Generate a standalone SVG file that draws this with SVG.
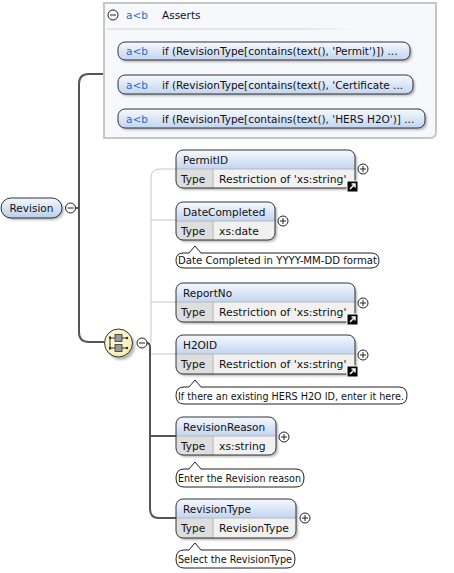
<svg xmlns="http://www.w3.org/2000/svg" width="454" height="573" viewBox="0 0 454 573">
<defs>
<linearGradient id="hdr" x1="0" y1="0" x2="0" y2="1"><stop offset="0" stop-color="#f6f9fe"/><stop offset="1" stop-color="#c2d5f0"/></linearGradient>
<linearGradient id="pill" x1="0" y1="0" x2="0" y2="1"><stop offset="0" stop-color="#f2f7fe"/><stop offset="1" stop-color="#b9cfee"/></linearGradient>
<radialGradient id="seq" cx="0.4" cy="0.35" r="0.7"><stop offset="0" stop-color="#fffde8"/><stop offset="1" stop-color="#f3eba8"/></radialGradient>
<linearGradient id="sep" x1="0" y1="0" x2="1" y2="0"><stop offset="0" stop-color="#e4e6ea"/><stop offset="0.8" stop-color="#e4e6ea"/><stop offset="1" stop-color="#f7f8fc"/></linearGradient>
<filter id="sh" x="-10%" y="-20%" width="130%" height="160%"><feGaussianBlur stdDeviation="1"/></filter>
</defs>
<style>
text{font-family:"DejaVu Sans","Liberation Sans",sans-serif;font-size:10.5px;fill:#111}
.ab{fill:#2a6cc4}
.cl{font-size:10px}
.val{font-size:10.8px}
.bd{fill:none;stroke:#333;stroke-width:1}
.shd{fill:#808080;opacity:.55;filter:url(#sh)}
.body{fill:#f1f1f1}
.tc{fill:#dedede}
.hd{fill:url(#hdr)}
.dv{stroke:#b8b8b8;stroke-width:1}
.thick{fill:none;stroke:#555;stroke-width:2}
.thin{fill:none;stroke:#c8c8c8;stroke-width:1}
.btn{fill:#fff;stroke:#222;stroke-width:1}
.sgn{stroke:#222;stroke-width:1}
.co{fill:#fff;stroke:#222;stroke-width:1}
</style>

<g id="connectors">
<path class="thick" d="M76,208 H79"/>
<path class="thick" d="M104,74 H89 Q79,74 79,84 V332 Q79,342 89,342 H104"/>
<path class="thin" d="M176,169 H160 Q151,169 151,178 V343"/>
<path class="thin" d="M151,220 H176"/>
<path class="thin" d="M151,302 H176"/>
<path class="thin" d="M151,354 H176"/>
<path class="thick" d="M147,343 Q150,343 150,347 V509 Q150,518 159,518 H176"/>
<path class="thick" d="M150,436 H176"/>
</g>

<g id="asserts">
<path d="M104,3 H436 V132 Q436,138 430,138 H104 Z" fill="#f7f8fc" stroke="#c6c6c6" stroke-width="2"/>
<circle class="btn" cx="113" cy="15" r="5"/><path class="sgn" d="M110,15 H116"/>
<text x="126" y="19" class="ab">a&lt;b</text>
<text x="162" y="19">Asserts</text>
<rect x="106" y="28" width="250" height="2" fill="url(#sep)"/>
</g>

<g id="assert1">
<rect class="shd" x="120" y="44" width="292" height="18" rx="7"/>
<rect x="118" y="42" width="292" height="18" rx="7" fill="url(#hdr)" stroke="#333"/>
<text x="126" y="55" class="ab">a&lt;b</text>
<text x="162" y="55">if (RevisionType[contains(text(), 'Permit')])  ...</text>
</g>
<g id="assert2">
<rect class="shd" x="120" y="77" width="295" height="19" rx="7"/>
<rect x="118" y="75" width="295" height="19" rx="7" fill="url(#hdr)" stroke="#333"/>
<text x="126" y="89" class="ab">a&lt;b</text>
<text x="162" y="89">if (RevisionType[contains(text(), 'Certificate ...</text>
</g>
<g id="assert3">
<rect class="shd" x="120" y="111" width="307" height="19" rx="7"/>
<rect x="118" y="109" width="307" height="19" rx="7" fill="url(#hdr)" stroke="#333"/>
<text x="126" y="123" class="ab">a&lt;b</text>
<text x="162" y="123">if (RevisionType[contains(text(), 'HERS H2O')] ...</text>
</g>

<g id="revision">
<rect class="shd" x="3" y="200" width="61" height="20" rx="10"/>
<rect x="1" y="198" width="61" height="20" rx="10" fill="url(#pill)" stroke="#333"/>
<text x="31.5" y="212" text-anchor="middle">Revision</text>
<circle class="btn" cx="70.5" cy="208" r="5"/><path class="sgn" d="M67.5,208 H73.5"/>
</g>

<g id="sequence">
<circle class="shd" cx="121" cy="346" r="14"/>
<circle cx="118.5" cy="343" r="14" fill="url(#seq)" stroke="#333"/>
<path d="M110,336 V350 M110,338 H127 M110,348 H127" stroke="#333" stroke-width="1" fill="none"/>
<rect x="115" y="334.5" width="7" height="7" fill="#999" stroke="#333" stroke-width=".8"/>
<rect x="115" y="344.5" width="7" height="7" fill="#999" stroke="#333" stroke-width=".8"/>
<circle cx="110" cy="338" r="1.2" fill="#333"/><circle cx="110" cy="348" r="1.2" fill="#333"/>
<circle cx="127" cy="338" r="1.2" fill="#333"/><circle cx="127" cy="348" r="1.2" fill="#333"/>
<circle class="btn" cx="142" cy="343" r="5"/><path class="sgn" d="M139,343 H145"/>
</g>

<g id="PermitID">
<rect class="shd" x="178" y="152" width="179" height="38" rx="7"/>
<rect class="body" x="176" y="150" width="179" height="38" rx="7"/>
<path class="tc" d="M176,169 H213 V188 H183 Q176,188 176,181 Z"/>
<path class="hd" d="M176,169 V157 Q176,150 183,150 H348 Q355,150 355,157 V169 Z"/>
<path class="dv" d="M176,169 H355 M213,169 V188"/>
<rect class="bd" x="176" y="150" width="179" height="38" rx="7"/>
<text x="183" y="164">PermitID</text>
<text x="181" y="183">Type</text>
<text x="219" y="183" class="val">Restriction of 'xs:string'</text>
<circle class="btn" cx="363" cy="169" r="5"/><path class="sgn" d="M360,169 H366 M363,166 V172"/>
<rect x="347" y="181" width="11" height="11" fill="#000" stroke="#fff" stroke-width="1"/>
<path d="M350,189 L355,184 M351.5,184 H355 V187.5" stroke="#fff" stroke-width="1.5" fill="none"/>
</g>

<g id="DateCompleted">
<rect class="shd" x="178" y="204" width="99" height="38" rx="7"/>
<rect class="body" x="176" y="202" width="99" height="38" rx="7"/>
<path class="tc" d="M176,221 H213 V240 H183 Q176,240 176,233 Z"/>
<path class="hd" d="M176,221 V209 Q176,202 183,202 H268 Q275,202 275,209 V221 Z"/>
<path class="dv" d="M176,221 H275 M213,221 V240"/>
<rect class="bd" x="176" y="202" width="99" height="38" rx="7"/>
<text x="183" y="216">DateCompleted</text>
<text x="181" y="235">Type</text>
<text x="219" y="235" class="val">xs:date</text>
<circle class="btn" cx="283" cy="221" r="5"/><path class="sgn" d="M280,221 H286 M283,218 V224"/>
<path class="co" d="M183,253 H189 L195,246 L201,253 H371 Q379,253 379,260.5 Q379,268 371,268 H184 Q176,268 176,260.5 Q176,253 183,253 Z"/>
<text x="178" y="264" class="cl" textLength="199" lengthAdjust="spacingAndGlyphs">Date Completed in YYYY-MM-DD format</text>
</g>

<g id="ReportNo">
<rect class="shd" x="178" y="285" width="179" height="39" rx="7"/>
<rect class="body" x="176" y="283" width="179" height="39" rx="7"/>
<path class="tc" d="M176,302 H213 V322 H183 Q176,322 176,315 Z"/>
<path class="hd" d="M176,302 V290 Q176,283 183,283 H348 Q355,283 355,290 V302 Z"/>
<path class="dv" d="M176,302 H355 M213,302 V322"/>
<rect class="bd" x="176" y="283" width="179" height="39" rx="7"/>
<text x="183" y="297">ReportNo</text>
<text x="181" y="316">Type</text>
<text x="219" y="316" class="val">Restriction of 'xs:string'</text>
<circle class="btn" cx="363" cy="303" r="5"/><path class="sgn" d="M360,303 H366 M363,300 V306"/>
<rect x="347" y="314" width="11" height="11" fill="#000" stroke="#fff" stroke-width="1"/>
<path d="M350,322 L355,317 M351.5,317 H355 V320.5" stroke="#fff" stroke-width="1.5" fill="none"/>
</g>

<g id="H2OID">
<rect class="shd" x="178" y="337" width="179" height="39" rx="7"/>
<rect class="body" x="176" y="335" width="179" height="39" rx="7"/>
<path class="tc" d="M176,354 H213 V374 H183 Q176,374 176,367 Z"/>
<path class="hd" d="M176,354 V342 Q176,335 183,335 H348 Q355,335 355,342 V354 Z"/>
<path class="dv" d="M176,354 H355 M213,354 V374"/>
<rect class="bd" x="176" y="335" width="179" height="39" rx="7"/>
<text x="183" y="349">H2OID</text>
<text x="181" y="368">Type</text>
<text x="219" y="368" class="val">Restriction of 'xs:string'</text>
<circle class="btn" cx="363" cy="355" r="5"/><path class="sgn" d="M360,355 H366 M363,352 V358"/>
<rect x="347" y="366" width="11" height="11" fill="#000" stroke="#fff" stroke-width="1"/>
<path d="M350,374 L355,369 M351.5,369 H355 V372.5" stroke="#fff" stroke-width="1.5" fill="none"/>
<path class="co" d="M184,387 H189 L195,380 L201,387 H399 Q407,387 407,395.5 Q407,404 399,404 H184 Q176,404 176,395.5 Q176,387 184,387 Z"/>
<text x="178" y="399.5" class="cl" textLength="226" lengthAdjust="spacingAndGlyphs">If there an existing HERS H2O ID, enter it here.</text>
</g>

<g id="RevisionReason">
<rect class="shd" x="178" y="419" width="100" height="38" rx="7"/>
<rect class="body" x="176" y="417" width="100" height="38" rx="7"/>
<path class="tc" d="M176,436 H213 V455 H183 Q176,455 176,448 Z"/>
<path class="hd" d="M176,436 V424 Q176,417 183,417 H269 Q276,417 276,424 V436 Z"/>
<path class="dv" d="M176,436 H276 M213,436 V455"/>
<rect class="bd" x="176" y="417" width="100" height="38" rx="7"/>
<text x="183" y="431">RevisionReason</text>
<text x="181" y="450">Type</text>
<text x="219" y="450" class="val">xs:string</text>
<circle class="btn" cx="284" cy="437" r="5"/><path class="sgn" d="M281,437 H287 M284,434 V440"/>
<path class="co" d="M184,469 H189 L195,462 L201,469 H296 Q304,469 304,478 Q304,487 296,487 H184 Q176,487 176,478 Q176,469 184,469 Z"/>
<text x="178" y="482" class="cl" textLength="123" lengthAdjust="spacingAndGlyphs">Enter the Revision reason</text>
</g>

<g id="RevisionType">
<rect class="shd" x="178" y="501" width="120" height="39" rx="7"/>
<rect class="body" x="176" y="499" width="120" height="39" rx="7"/>
<path class="tc" d="M176,518 H213 V538 H183 Q176,538 176,531 Z"/>
<path class="hd" d="M176,518 V506 Q176,499 183,499 H289 Q296,499 296,506 V518 Z"/>
<path class="dv" d="M176,518 H296 M213,518 V538"/>
<rect class="bd" x="176" y="499" width="120" height="39" rx="7"/>
<text x="183" y="513">RevisionType</text>
<text x="181" y="532">Type</text>
<text x="219" y="532" class="val">RevisionType</text>
<circle class="btn" cx="305" cy="518" r="5"/><path class="sgn" d="M302,518 H308 M305,515 V521"/>
<path class="co" d="M184,550 H189 L195,543 L201,550 H287 Q295,550 295,559 Q295,568 287,568 H184 Q176,568 176,559 Q176,550 184,550 Z"/>
<text x="178" y="563" class="cl" textLength="114" lengthAdjust="spacingAndGlyphs">Select the RevisionType</text>
</g>
</svg>
